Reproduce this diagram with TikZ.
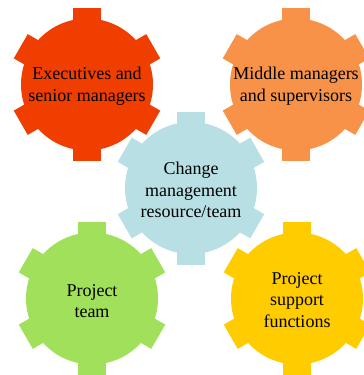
\documentclass[tikz,border=0pt]{standalone}
\usepackage{fontspec}
\setmainfont{Liberation Serif}
\definecolor{gred}{RGB}{240,62,0}
\definecolor{gorange}{RGB}{248,146,72}
\definecolor{gblue}{RGB}{184,223,228}
\definecolor{ggreen}{RGB}{160,224,90}
\definecolor{gyellow}{RGB}{255,204,0}
\tikzset{
  pics/gear/.style={code={
    \fill[#1] (0,0) circle (66pt);
    \foreach \a in {30,90,...,330} {\fill[#1, rotate=\a] (0,-14) rectangle (76.5,14);}
  }},
  gearlabel/.style={align=center, font=\fontsize{18}{21.5}\selectfont, text=black, inner sep=0pt}
}
\begin{document}
\begin{tikzpicture}[x=1pt,y=-1pt]
\useasboundingbox (0,0) rectangle (364,375);
\clip (0,0) rectangle (364,375);
\pic at (87,84.5) {gear=gred};
\pic at (296,84.5) {gear=gorange};
\pic at (92,298.5) {gear=ggreen};
\pic at (297,298.5) {gear=gyellow};
\pic at (191,188) {gear=gblue};
\node[gearlabel] (exec) at (87,86) {Executives and\\senior managers};
\node[gearlabel] (middle) at (296,86) {Middle managers\\and supervisors};
\node[gearlabel] (change) at (191,190) {Change\\management\\resource/team};
\node[gearlabel] (team) at (92,301) {Project\\team};
\node[gearlabel] (support) at (297,300) {Project\\support\\functions};
\end{tikzpicture}
\end{document}
